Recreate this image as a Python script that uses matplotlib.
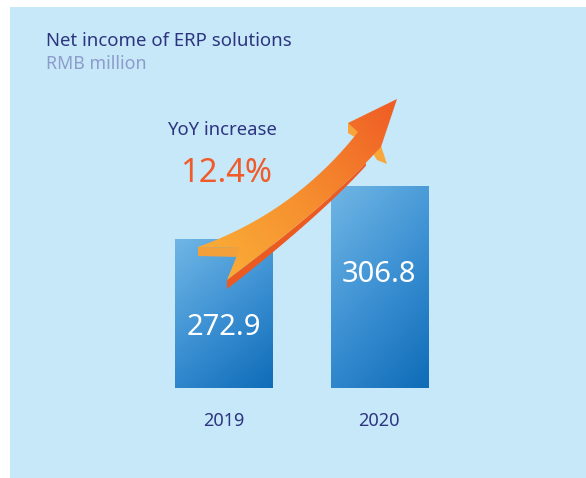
import numpy as np
import matplotlib
matplotlib.use("Agg")
import matplotlib.pyplot as plt
from matplotlib.patches import Rectangle, Polygon
from matplotlib.colors import LinearSegmentedColormap

plt.rcParams['font.family'] = ['Noto Sans', 'DejaVu Sans']

years = ["2019", "2020"]
income = [272.9, 306.8]
yoy_label = "12.4%"

W, H = 586, 478
NAVY = "#2e3580"
bg_col = "#c6e8f8"

fig = plt.figure(figsize=(W / 100, H / 100), dpi=100)

# background panel (pixel coords)
bg = fig.add_axes([0, 0, 1, 1], zorder=0)
bg.set_xlim(0, W)
bg.set_ylim(H, 0)
bg.axis("off")
bg.add_patch(Rectangle((10, 7), W - 10, H - 7, color=bg_col, lw=0))

# bars
ax = fig.add_axes([146 / W, 90 / H, 311 / W, 288 / H], zorder=1)
ax.set_facecolor("none")
ax.set_xlim(-0.5, 1.5)
ax.set_ylim(179, 361.5)
ax.axis("off")
bar_cmap = LinearSegmentedColormap.from_list("bar", ["#70b6e5", "#3d91d3", "#0f6cb8"])
xs = np.arange(len(years))
bars = ax.bar(xs, income, width=0.625, bottom=179, color="none", lw=0)
gx, gy = np.meshgrid(np.linspace(0, 1, 60), np.linspace(0, 1, 120))
for b, v, x in zip(bars, income, xs):
    grad = 0.35 * gx + 0.65 * gy
    im = ax.imshow(grad, cmap=bar_cmap, vmin=0, vmax=1, aspect="auto",
                   extent=(b.get_x(), b.get_x() + b.get_width(), 179, v), origin="upper")
    im.set_clip_path(b)
    ax.text(x, v - 60.5, f"{v:.1f}", color="white", fontsize=21, fontweight="light",
            ha="center", va="baseline")

for x, yr in zip(xs, years):
    ax.text(x, 179 - 24.1, yr, color=NAVY, fontsize=13, ha="center", va="baseline")

# overlay: titles and arrow (pixel coords)
ov = fig.add_axes([0, 0, 1, 1], zorder=2)
ov.set_facecolor("none")
ov.set_xlim(0, W)
ov.set_ylim(H, 0)
ov.axis("off")

ov.text(46, 46, "Net income of ERP solutions", color=NAVY, fontsize=13.4, va="baseline")
ov.text(46, 69, "RMB million", color="#8d9ccb", fontsize=12.8, va="baseline")
ov.text(167, 135, "YoY increase", color=NAVY, fontsize=13.3, va="baseline")
ov.text(180, 182, yoy_label, color="#f15a29", fontsize=23.5, va="baseline")


def bez(p0, c, p2, n=40):
    t = np.linspace(0, 1, n)[:, None]
    return (1 - t) ** 2 * np.array(p0) + 2 * (1 - t) * t * np.array(c) + t ** 2 * np.array(p2)


upper = bez((198, 247), (295, 212), (358, 132))
lower = bez((227, 280), (330, 203), (376, 152))

# underside strip
n = len(lower)
seg = lower[: int(n * 0.92)]
thick = np.linspace(9, 3, len(seg))[:, None]
off = seg + np.hstack([np.zeros_like(thick), thick])
ov.add_patch(Polygon(np.vstack([seg, off[::-1]]), closed=True, color="#ec5a22", lw=0))
# lower barb side
ov.add_patch(Polygon([(381, 146), (387, 164), (377, 160), (372, 152)], closed=True,
                     color="#f9a63a", lw=0))
# upper barb slab
ov.add_patch(Polygon([(348, 123), (348, 133), (358, 139), (361, 131)], closed=True,
                     color="#f8a43a", lw=0))
# tail slab
ov.add_patch(Polygon([(198, 247), (240, 248), (240, 257), (198, 256)], closed=True,
                     color="#f4a03a", lw=0))

body = np.vstack([upper, [(348, 123), (397, 99), (381, 147), (376, 152)],
                  lower[::-1], [(240, 248)]])
arrow = Polygon(body, closed=True, facecolor="none", lw=0)
ov.add_patch(arrow)
arr_cmap = LinearSegmentedColormap.from_list("arr", ["#fbb53a", "#f6902f", "#ef5a24"])
ax_, ay_ = np.meshgrid(np.linspace(190, 400, 120), np.linspace(95, 292, 120))
d = np.array([397 - 205, 99 - 262], float)
d /= np.linalg.norm(d)
proj = (ax_ - 205) * d[0] + (ay_ - 262) * d[1]
proj = (proj - proj.min()) / (proj.max() - proj.min())
im = ov.imshow(proj, cmap=arr_cmap, extent=(190, 400, 292, 95), origin="upper",
               aspect="auto", zorder=3)
im.set_clip_path(arrow)
ov.set_xlim(0, W)
ov.set_ylim(H, 0)

fig.savefig("out.png", dpi=100, facecolor="white")
